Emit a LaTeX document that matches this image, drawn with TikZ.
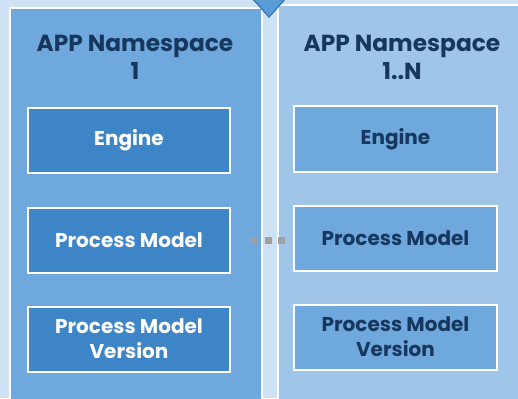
\documentclass[tikz,border=0pt]{standalone}
\usepackage{fontspec}
\setmainfont{Poppins}

\definecolor{bgblue}{HTML}{CFE2F3}
\definecolor{midblue}{HTML}{6FA8DC}
\definecolor{deepblue}{HTML}{3D85C6}
\definecolor{paleblue}{HTML}{9FC5E8}
\definecolor{navy}{HTML}{17375E}
\definecolor{arrowblue}{HTML}{5B9BD5}
\definecolor{arrowedge}{HTML}{2E75B6}
\definecolor{dotgray}{HTML}{A0A0A0}

\tikzset{
  panel/.style={draw=white, line width=2pt, anchor=north west, inner sep=0pt},
  nstitle/.style={text=navy, align=center, font=\bfseries\fontsize{23.3}{28}\selectfont},
  objbox/.style={draw=white, line width=2pt, minimum height=65pt, align=center,
                 font=\bfseries\fontsize{20}{25}\selectfont},
  leftbox/.style={objbox, fill=deepblue, text=white, minimum width=202pt},
  rightbox/.style={objbox, fill=midblue, text=navy, minimum width=203pt},
}

\begin{document}
\begin{tikzpicture}[x=1pt,y=-1pt]
  \useasboundingbox (0,0) rectangle (518,398);
  \clip (0,0) rectangle (518,398);
  \fill[bgblue] (0,0) rectangle (518,398);   % background

  % namespace panels
  \node[panel, fill=midblue, minimum width=252pt, minimum height=400pt] (lpanel) at (9,7) {};
  \node[panel, fill=paleblue, minimum width=250pt, minimum height=400pt] (rpanel) at (277,4) {};

  % arrow coming in from above
  \draw[arrowedge, fill=arrowblue, line width=1.2pt, line join=miter] (251,-3) -- (287,-3) -- (269,17) -- cycle;

  \node[nstitle] (ltitle) at (135,57) {APP Namespace\\1};
  \node[nstitle] (rtitle) at (402,57) {APP Namespace\\1..N};

  % namespace 1
  \node[leftbox] (leng) at (129,140.5) {Engine};
  \node[leftbox] (lpm) at (129,240) {Process Model};
  \node[leftbox] (lpmv) at (129,339) {Process Model\\Version};

  % namespace 1..N
  \node[rightbox] (reng) at (395.5,139) {Engine};
  \node[rightbox] (rpm) at (395.5,238) {Process Model};
  \node[rightbox] (rpmv) at (395.5,337) {Process Model\\Version};

  % dotted link between the two
  \draw[dotgray, line width=7pt, dash pattern=on 7pt off 6.5pt, shorten <=20pt, shorten >=8pt, yshift=-2.5pt]
    (lpm.east) -- (lpm.east -| rpm.west);
\end{tikzpicture}
\end{document}
